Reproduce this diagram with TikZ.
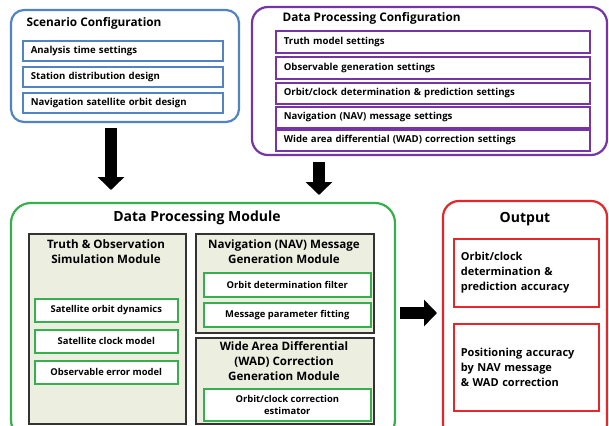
\documentclass[tikz,border=0pt]{standalone}
\usepackage{fontspec}
\setmainfont{Open Sans}
\usetikzlibrary{arrows.meta}
\definecolor{scblue}{HTML}{5283C2}
\definecolor{dppurple}{HTML}{7634A6}
\definecolor{modgreen}{HTML}{35B04C}
\definecolor{outred}{HTML}{E5262A}
\definecolor{modfill}{HTML}{ECEEE0}
\definecolor{modedge}{HTML}{333333}
\tikzset{
  groupbox/.style={draw, rounded corners=13pt, line width=2.2pt, fill=white},
  cfgitem/.style={draw, line width=1.6pt, fill=white, anchor=north west,
    inner xsep=8pt, inner ysep=0pt, align=left,
    font=\bfseries\fontsize{9.6}{11}\selectfont},
  module/.style={draw=modedge, line width=1.6pt, fill=modfill, anchor=north west, inner sep=0pt},
  moditem/.style={draw=modgreen, line width=1.6pt, fill=white, anchor=north west,
    inner sep=0pt, align=center, font=\bfseries\fontsize{9.4}{11.5}\selectfont},
  outitem/.style={draw=outred, line width=1.6pt, fill=white, anchor=north west,
    inner xsep=7pt, inner ysep=0pt, align=left,
    font=\bfseries\fontsize{11}{15}\selectfont},
  grouptitle/.style={font=\bfseries\fontsize{11.8}{13}\selectfont},
  bigtitle/.style={font=\bfseries\fontsize{14}{16}\selectfont},
  modtitle/.style={font=\bfseries\fontsize{11.6}{15}\selectfont, align=center, anchor=north, inner sep=0pt},
  blockarrow/.style={line width=12pt, -{Triangle[width=26pt,length=13pt]}}
}
\begin{document}
\begin{tikzpicture}[x=1pt,y=-1pt]
\useasboundingbox (0,0) rectangle (609,425);

% Scenario configuration
\draw[groupbox, draw=scblue] (11,10) rectangle (239,122);
\node[grouptitle, anchor=west] (sct) at (23,23) {Scenario Configuration};
\node[cfgitem, draw=scblue, minimum height=20, text width=184pt] (sc1) at (22,40) {Analysis time settings};
\node[cfgitem, draw=scblue, minimum height=20, text width=184pt] (sc2) at (22,66) {Station distribution design};
\node[cfgitem, draw=scblue, minimum height=20, text width=184pt] (sc3) at (22,92) {Navigation satellite orbit design};

% Data processing configuration
\draw[groupbox, draw=dppurple, rounded corners=16pt] (252,7) rectangle (607,155);
\node[grouptitle, anchor=west] (dpt) at (279,18) {Data Processing Configuration};
\node[cfgitem, draw=dppurple, minimum height=22, text width=298pt] (dp1) at (275,30) {Truth model settings};
\node[cfgitem, draw=dppurple, minimum height=22, text width=298pt] (dp2) at (275,56) {Observable generation settings};
\node[cfgitem, draw=dppurple, minimum height=21, text width=298pt] (dp3) at (275,82) {Orbit/clock determination \& prediction settings};
\node[cfgitem, draw=dppurple, minimum height=21, text width=298pt] (dp4) at (275,106) {Navigation (NAV) message settings};
\node[cfgitem, draw=dppurple, minimum height=21, text width=298pt] (dp5) at (275,129) {Wide area differential (WAD) correction settings};

% Data processing module
\draw[groupbox, draw=modgreen, rounded corners=20pt] (11,203) rectangle (395,440);
\node[bigtitle] (dpm) at (197,218) {Data Processing Module};

\node[module, minimum width=157, minimum height=190] (truth) at (28,233) {};
\node[modtitle] (trutht) at (106,239) {Truth \& Observation\\Simulation Module};
\node[moditem, minimum width=143, minimum height=23] (tr1) at (34,298) {Satellite orbit dynamics};
\node[moditem, minimum width=143, minimum height=23] (tr2) at (34,329) {Satellite clock model};
\node[moditem, minimum width=143, minimum height=23] (tr3) at (34,360) {Observable error model};

\node[module, minimum width=178, minimum height=99] (nav) at (195,233) {};
\node[modtitle] (navt) at (284,239) {Navigation (NAV) Message\\Generation Module};
\node[moditem, minimum width=167, minimum height=24] (nv1) at (203,272) {Orbit determination filter};
\node[moditem, minimum width=167, minimum height=24] (nv2) at (203,302) {Message parameter fitting};

\node[module, minimum width=178, minimum height=86] (wad) at (195,337) {};
\node[modtitle] (wadt) at (284,341) {Wide Area Differential\\(WAD) Correction\\Generation Module};
\node[moditem, minimum width=167, minimum height=32] (wd1) at (203,388) {Orbit/clock correction\\estimator};

% Output
\draw[groupbox, draw=outred, rounded corners=16pt] (443,201) rectangle (607,440);
\node[bigtitle] (outt) at (525,219) {Output};
\node[outitem, minimum height=68, text width=131pt] (o1) at (453,238) {Orbit/clock\\determination \&\\prediction accuracy};
\node[outitem, minimum height=87, text width=131pt] (o2) at (453,323) {Positioning accuracy\\by NAV message\\\& WAD correction};

% Block arrows between the stages
\coordinate (a1s) at (111,128);
\coordinate (a1e) at (111,190);
\coordinate (a2s) at (319,162);
\coordinate (a2e) at (319,195);
\coordinate (a3s) at (400,313);
\coordinate (a3e) at (437,313);
\draw[blockarrow] (a1s) -- (a1e);
\draw[blockarrow] (a2s) -- (a2e);
\draw[blockarrow] (a3s) -- (a3e);
\end{tikzpicture}
\end{document}
